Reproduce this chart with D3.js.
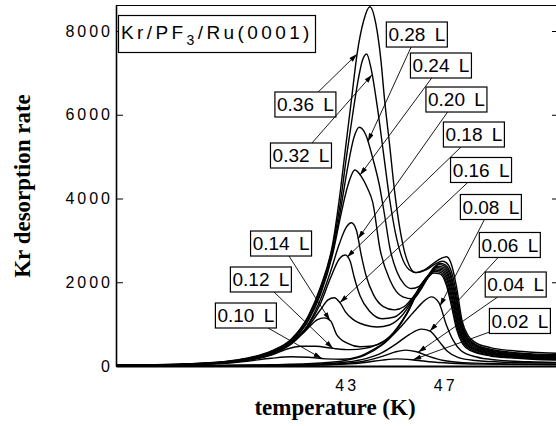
<!DOCTYPE html>
<html>
<head>
<meta charset="utf-8">
<script src="https://cdn.jsdelivr.net/npm/d3@7"></script>
<style>
  html, body { margin: 0; padding: 0; background: #fff; }
  svg { display: block; }
  .tick-label { font-family: "Liberation Sans", Arial, sans-serif; font-size: 16px; letter-spacing: 3px; fill: #000; }
  .axis-title { font-family: "Liberation Serif", "Times New Roman", serif; font-weight: bold; font-size: 23px; fill: #000; }
  .dose-label { font-family: "Liberation Sans", Arial, sans-serif; font-size: 19px; word-spacing: 4px; fill: #000; }
  .title-label { font-family: "Liberation Sans", Arial, sans-serif; font-size: 19px; letter-spacing: 3.4px; fill: #000; }
  .curve { fill: none; stroke: #000; stroke-width: 1.4; stroke-linejoin: round; }
  .axis path, .axis line { stroke: #000; }
</style>
</head>
<body>
<div id="chart"></div>
<script>

// ---- data: [temperature (K), Kr desorption rate] ----
var s036 = [[33.7,20],[35,30],[36.5,50],[38,100],[39,185],[40,360],[40.8,640],[41.5,1200],[42,1900],[42.5,2950],[42.75,3950],[43,5150],[43.25,6350],[43.48,7450],[43.75,8250],[44,8580],[44.25,8150],[44.45,7300],[44.6,6350],[44.8,5300],[45,4200],[45.2,3350],[45.4,2750],[45.6,2400],[45.85,2230],[46.2,2290],[46.6,2460],[46.9,2570],[47.12,2610],[47.32,2420],[47.52,1900],[47.75,1080],[48,720],[48.3,560],[48.9,440],[49.7,370],[50.6,330],[51.73,300]];
var s032 = [[33.7,18],[35,28],[36.5,48],[38,95],[39,178],[40,350],[40.8,620],[41.5,1170],[42,1850],[42.5,2880],[42.8,3900],[43.05,5000],[43.3,6000],[43.5,6750],[43.7,7300],[43.87,7450],[44.05,7100],[44.3,6200],[44.55,5100],[44.8,4000],[45.05,3150],[45.3,2600],[45.6,2300],[45.9,2230],[46.3,2300],[46.65,2430],[46.95,2500],[47.1,2470],[47.3,2280],[47.5,1800],[47.72,1050],[47.97,690],[48.3,520],[48.9,400],[49.7,330],[50.6,290],[51.73,265]];
var s028 = [[33.7,16],[35,26],[36.5,45],[38,90],[39,170],[40,335],[40.8,600],[41.5,1120],[42,1780],[42.5,2780],[42.8,3700],[43.1,4750],[43.35,5450],[43.57,5700],[43.85,5500],[44.1,5000],[44.4,4280],[44.6,3600],[44.82,2800],[45.1,2250],[45.4,1950],[45.7,1850],[46,1900],[46.3,2100],[46.6,2350],[46.85,2450],[47.05,2420],[47.27,2230],[47.47,1760],[47.7,1030],[47.95,670],[48.3,500],[48.9,380],[49.7,310],[50.6,270],[51.73,245]];
var s024 = [[33.7,15],[35,25],[36.5,43],[38,86],[39,160],[40,320],[40.8,580],[41.5,1080],[42,1720],[42.5,2700],[42.8,3550],[43.1,4300],[43.39,4680],[43.65,4530],[43.9,4250],[44.12,3900],[44.41,2800],[44.82,2050],[45.34,1650],[45.75,1600],[46.1,1850],[46.45,2200],[46.8,2420],[47.02,2390],[47.25,2190],[47.45,1720],[47.68,1010],[47.93,650],[48.28,480],[48.9,360],[49.7,290],[50.6,250],[51.73,225]];
var s020 = [[33.7,14],[35,23],[36.5,40],[38,80],[39,150],[40,300],[40.8,540],[41.5,1000],[42,1600],[42.4,2250],[42.75,2900],[43.05,3320],[43.25,3420],[43.45,3250],[43.65,2650],[43.85,2150],[44.15,1700],[44.55,1420],[45,1340],[45.4,1420],[45.8,1680],[46.2,2030],[46.5,2260],[46.75,2380],[46.98,2360],[47.22,2150],[47.42,1680],[47.65,990],[47.9,630],[48.25,460],[48.9,340],[49.7,270],[50.6,235],[51.73,210]];
var s018 = [[33.7,14],[35,22],[36.5,39],[38,78],[39,145],[40,310],[40.8,560],[41.5,980],[42,1500],[42.4,2100],[42.75,2550],[43,2650],[43.2,2500],[43.35,2150],[43.6,1680],[44,1300],[44.5,1130],[45,1170],[45.5,1420],[46,1830],[46.4,2150],[46.7,2350],[46.95,2330],[47.2,2110],[47.4,1640],[47.62,970],[47.87,610],[48.22,440],[48.9,320],[49.7,255],[50.6,220],[51.73,195]];
var s016 = [[33.7,13],[35,22],[36.5,38],[38,76],[39,142],[40,300],[40.8,540],[41.5,950],[42,1350],[42.3,1580],[42.55,1630],[42.8,1500],[43,1300],[43.3,1120],[43.8,980],[44.3,930],[44.8,980],[45.3,1200],[45.8,1620],[46.2,1980],[46.5,2200],[46.7,2320],[46.93,2300],[47.17,2070],[47.37,1600],[47.6,950],[47.85,590],[48.2,420],[48.9,300],[49.7,240],[50.6,205],[51.73,180]];
var s014 = [[33.7,13],[35,22],[36.5,38],[38,75],[39,140],[40,280],[40.8,520],[41.4,850],[41.85,1100],[42.15,1150],[42.4,1080],[42.65,750],[43.1,540],[43.6,460],[44.1,480],[44.8,700],[45.5,1260],[46.1,1960],[46.4,2180],[46.65,2290],[46.9,2270],[47.15,2030],[47.35,1560],[47.58,930],[47.83,570],[48.18,400],[48.9,280],[49.7,225],[50.6,190],[51.73,165]];
var s012 = [[33.7,12],[35,20],[36.5,35],[38,70],[39,130],[40,260],[40.6,400],[41.2,470],[41.8,470],[42.5,420],[43.2,390],[43.8,420],[44.3,510],[44.8,690],[45.5,1250],[46.1,1950],[46.4,2160],[46.6,2260],[46.87,2240],[47.12,1990],[47.32,1520],[47.55,910],[47.8,550],[48.15,380],[48.9,260],[49.7,210],[50.6,175],[51.73,150]];
var s010 = [[33.7,10],[35,17],[36.5,30],[38,60],[39,115],[40,185],[40.8,220],[41.5,210],[42.2,170],[42.9,160],[43.5,215],[44.1,380],[44.8,670],[45.5,1240],[46.1,1940],[46.4,2150],[46.6,2220],[46.85,2200],[47.1,1950],[47.3,1480],[47.52,890],[47.77,530],[48.12,360],[48.9,240],[49.7,195],[50.6,160],[51.73,140]];
var s008 = [[33.7,5],[37,12],[40,30],[42,70],[43,130],[43.8,260],[44.5,500],[45.2,900],[45.8,1300],[46.2,1550],[46.5,1650],[46.8,1520],[47.1,1000],[47.4,600],[47.7,370],[48.3,220],[49.2,140],[50.5,100],[51.73,85]];
var s006 = [[33.7,4],[37,10],[40,22],[42,50],[43,90],[43.8,170],[44.5,320],[45.1,540],[45.6,750],[46.1,880],[46.45,830],[46.8,600],[47.15,350],[47.6,200],[48.3,130],[49.5,90],[51.73,70]];
var s004 = [[33.7,3],[37,7],[40,15],[42,32],[43,60],[43.8,120],[44.5,230],[45,330],[45.45,380],[45.9,340],[46.4,230],[47,130],[47.8,80],[49,55],[51.73,40]];
var s002 = [[33.7,2],[37,5],[40,10],[42,22],[43,45],[43.8,85],[44.5,140],[45.1,170],[45.7,150],[46.4,100],[47.3,65],[48.5,45],[51.73,30]];

var doses = ['0.36 L','0.32 L','0.28 L','0.24 L','0.20 L','0.18 L','0.16 L','0.14 L','0.12 L','0.10 L','0.08 L','0.06 L','0.04 L','0.02 L'];
var curves = [s036, s032, s028, s024, s020, s018, s016, s014, s012, s010, s008, s006, s004, s002];

// label boxes (centre, in data units) and where each arrow meets its curve (temperature)
var labelT = [41.38, 41.2, 45.91, 46.89, 47.52, 48.23, 48.52, 40.39, 39.57, 38.96, 48.92, 49.69, 49.93, 50.1];
var labelV = [6245, 5027, 7916, 7176, 6364, 5528, 4681, 2925, 2066, 1206, 3797, 2890, 1946, 1075];
var arrowT = [43.48, 44.09, 43.92, 43.6, 43.52, 43.07, 42.78, 42.38, 42.5, 42.05, 46.85, 46.44, 45.96, 45.75];

var yTicks = [0, 2000, 4000, 6000, 8000];
var xTicks = [43, 47];
var tempRange = [33.68, 51.73];
var rateRange = [0, 8621];

// ---- layout ----
var margin = {top: 5, left: 116};
var width = 444, height = 361;
var boxW = 61, boxH = 25;

var x = d3.scaleLinear().domain(tempRange).range([0, width]);
var y = d3.scaleLinear().domain(rateRange).range([height, 0]);

var svg = d3.select('#chart').append('svg')
  .attr('width', 556)
  .attr('height', 426);

svg.append('defs').append('marker')
  .attr('id', 'arrow')
  .attr('viewBox', '0 0 10 6')
  .attr('refX', 10)
  .attr('refY', 3)
  .attr('markerWidth', 9)
  .attr('markerHeight', 5)
  .attr('markerUnits', 'userSpaceOnUse')
  .attr('orient', 'auto')
.append('path')
  .attr('d', 'M0,0L10,3L0,6Z')
  .attr('fill', '#000');

var g = svg.append('g')
  .attr('transform', 'translate(' + margin.left + ',' + margin.top + ')');

// frame top
g.append('line')
  .attr('x1', 0).attr('x2', width)
  .attr('y1', 0.5).attr('y2', 0.5)
  .attr('stroke', '#000')
  .attr('stroke-width', 1.2);

// left axis, ticks inward
var yAxis = g.append('g')
  .attr('class', 'y axis')
  .call(d3.axisLeft(y).tickValues(yTicks).tickSize(-7).tickSizeOuter(0).tickPadding(3).tickFormat(d3.format('d')));
yAxis.select('.domain').attr('stroke-width', 1.6);
yAxis.selectAll('text').attr('class', 'tick-label');

// right axis (sits just past the window edge)
g.append('g')
  .attr('class', 'axis')
  .attr('transform', 'translate(' + width + ',0)')
  .call(d3.axisRight(y).tickValues(yTicks.slice(1)).tickSize(-8).tickSizeOuter(0).tickFormat(''));

// bottom axis
var xAxis = g.append('g')
  .attr('class', 'x axis')
  .attr('transform', 'translate(0,' + height + ')')
  .call(d3.axisBottom(x).tickValues(xTicks).tickSize(0).tickSizeOuter(0).tickPadding(13.5).tickFormat(d3.format('d')));
xAxis.select('.domain').attr('stroke-width', 1.8);
xAxis.selectAll('text').attr('class', 'tick-label').attr('dx', 1.5);

// curves
var line = d3.line()
  .x(function(d){ return x(d[0]); })
  .y(function(d){ return y(d[1]); })
  .curve(d3.curveMonotoneX);

g.append('g')
  .attr('class', 'lines')
.selectAll('path')
  .data(curves)
.enter().append('path')
  .attr('class', 'curve')
  .attr('stroke-width', function(d, i){ return i === 0 ? 1.9 : 1.4; })
  .attr('d', line);

var valueAt = function(pts, t) {
  var i = d3.bisector(function(d){ return d[0]; }).left(pts, t);
  if (i <= 0) return pts[0][1];
  if (i >= pts.length) return pts[pts.length - 1][1];
  var a = pts[i - 1], b = pts[i];
  return a[1] + (b[1] - a[1]) * (t - a[0]) / (b[0] - a[0]);
};

// dose labels with arrows
var labels = g.append('g').attr('class', 'labels');

doses.forEach(function(name, i) {
  var cx = x(labelT[i]), cy = y(labelV[i]);
  var tx = x(arrowT[i]), ty = y(valueAt(curves[i], arrowT[i]));
  var dx = tx - cx, dy = ty - cy;
  var k = Math.min((boxW / 2) / Math.abs(dx), (boxH / 2) / Math.abs(dy));

  labels.append('line')
    .attr('x1', cx + dx * k).attr('y1', cy + dy * k)
    .attr('x2', tx).attr('y2', ty)
    .attr('stroke', '#000')
    .attr('stroke-width', 0.9)
    .attr('marker-end', 'url(#arrow)');

  labels.append('rect')
    .attr('x', cx - boxW / 2).attr('y', cy - boxH / 2)
    .attr('width', boxW).attr('height', boxH)
    .attr('fill', '#fff')
    .attr('stroke', '#000')
    .attr('stroke-width', 1.2);

  labels.append('text')
    .attr('class', 'dose-label')
    .attr('x', cx).attr('y', cy + 6.8)
    .attr('text-anchor', 'middle')
    .text(name);
});

// system title box
g.append('rect')
  .attr('x', 2.5).attr('y', 10.5)
  .attr('width', 197).attr('height', 37)
  .attr('fill', '#fff')
  .attr('stroke', '#000')
  .attr('stroke-width', 1.2);

var title = g.append('text')
  .attr('class', 'title-label')
  .attr('x', 5).attr('y', 33.5);
title.append('tspan').text('Kr/PF');
title.append('tspan').attr('dy', 6).style('font-size', '14px').text('3');
title.append('tspan').attr('dy', -6).text('/Ru(0001)');

// axis titles
svg.append('text')
  .attr('class', 'axis-title')
  .attr('x', 335).attr('y', 415)
  .attr('text-anchor', 'middle')
  .text('temperature (K)');

svg.append('text')
  .attr('class', 'axis-title')
  .attr('transform', 'translate(30,186) rotate(-90)')
  .attr('text-anchor', 'middle')
  .text('Kr desorption rate');

</script>
</body>
</html>
